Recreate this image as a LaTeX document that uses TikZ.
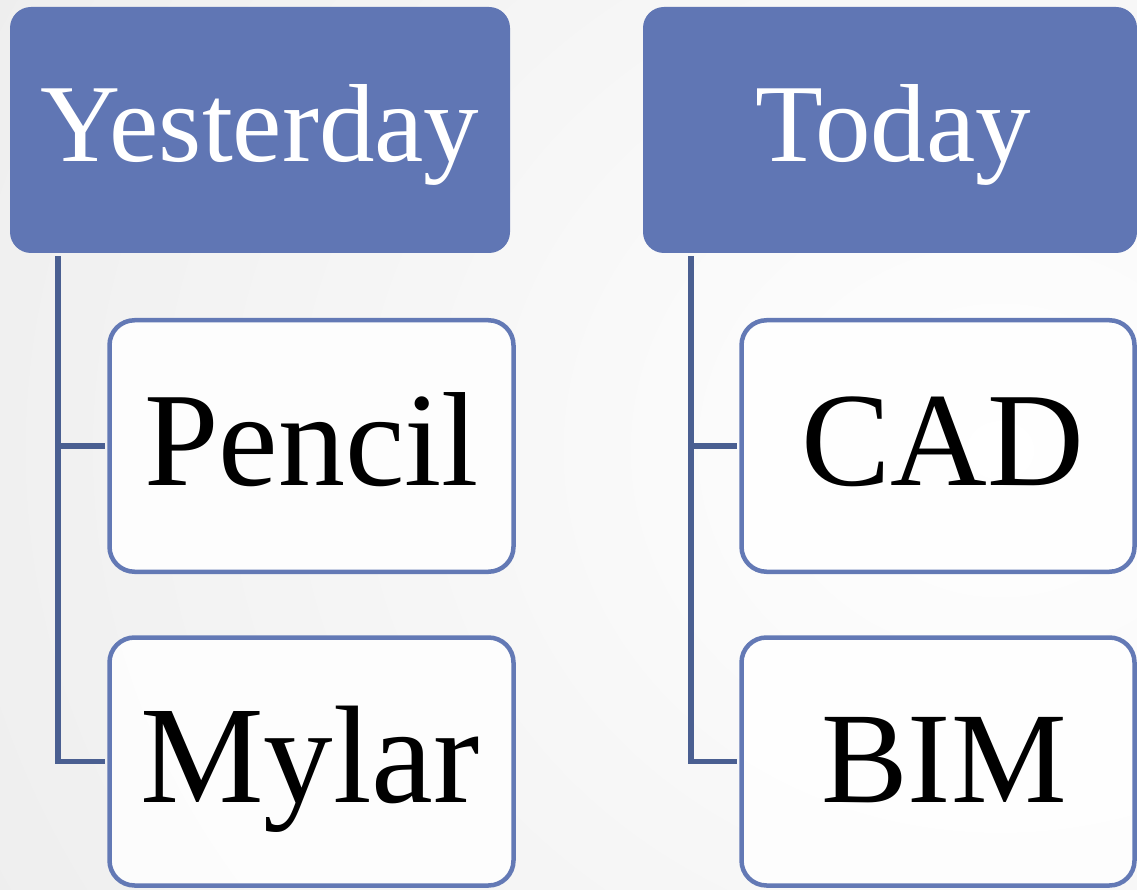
\documentclass[tikz,border=0pt]{standalone}
\usepackage{fontspec}
\setmainfont{Liberation Serif}
\definecolor{headfill}{HTML}{6076B4}
\definecolor{boxline}{HTML}{6379B5}
\definecolor{connline}{HTML}{4A5F91}
\tikzset{
  headbox/.style={draw=none, fill=headfill, rounded corners=21pt, inner sep=0pt},
  childbox/.style={draw=boxline, line width=4.5pt, fill=white, fill opacity=0.85, rounded corners=25pt, inner sep=0pt},
  headtext/.style={text=white, anchor=base, inner sep=0pt, font=\fontsize{111}{115}\selectfont},
  childtext/.style={text=black, anchor=base, inner sep=0pt, font=\fontsize{134}{140}\selectfont},
  conn/.style={draw=connline, line width=5.5pt}
}
\begin{document}
\begin{tikzpicture}[x=1pt,y=-1pt]
\useasboundingbox (0,0) rectangle (1137,890);
\fill[white] (0,0) rectangle (1137,890);
\shade[inner color=white, outer color=black!7] (-200,-600) rectangle (2200,1500);
% headers
\node[headbox, minimum width=500pt, minimum height=246pt] (yh) at (260,130) {};
\node[headbox, minimum width=494pt, minimum height=246pt] (th) at (890,130) {};
% child boxes
\node[childbox, minimum width=404pt, minimum height=251.5pt] (pencil) at (311.5,446) {};
\node[childbox, minimum width=404pt, minimum height=248pt] (mylar) at (311.5,761.5) {};
\node[childbox, minimum width=393pt, minimum height=251.5pt] (cad) at (938,446) {};
\node[childbox, minimum width=393pt, minimum height=248pt] (bim) at (938,761.5) {};
% connectors
\draw[conn] ([xshift=48pt,yshift=-3pt]yh.south west) |- ([xshift=-2pt]pencil.west);
\draw[conn] ([xshift=48pt,yshift=-3pt]yh.south west) |- ([xshift=-2pt]mylar.west);
\draw[conn] ([xshift=48pt,yshift=-3pt]th.south west) |- ([xshift=-2pt]cad.west);
\draw[conn] ([xshift=48pt,yshift=-3pt]th.south west) |- ([xshift=-2pt]bim.west);
% texts
\node[headtext] (yt) at (260,162) {Yesterday};
\node[headtext] (tt) at (893,162) {Today};
\node[childtext] (pt) at (311.5,485) {Pencil};
\node[childtext, font=\fontsize{139}{140}\selectfont] (mt) at (310,802) {Mylar};
\node[childtext] (ct) at (943,485) {CAD};
\node[childtext, font=\fontsize{130}{140}\selectfont] (bt) at (944,802) {BIM};
\end{tikzpicture}
\end{document}
